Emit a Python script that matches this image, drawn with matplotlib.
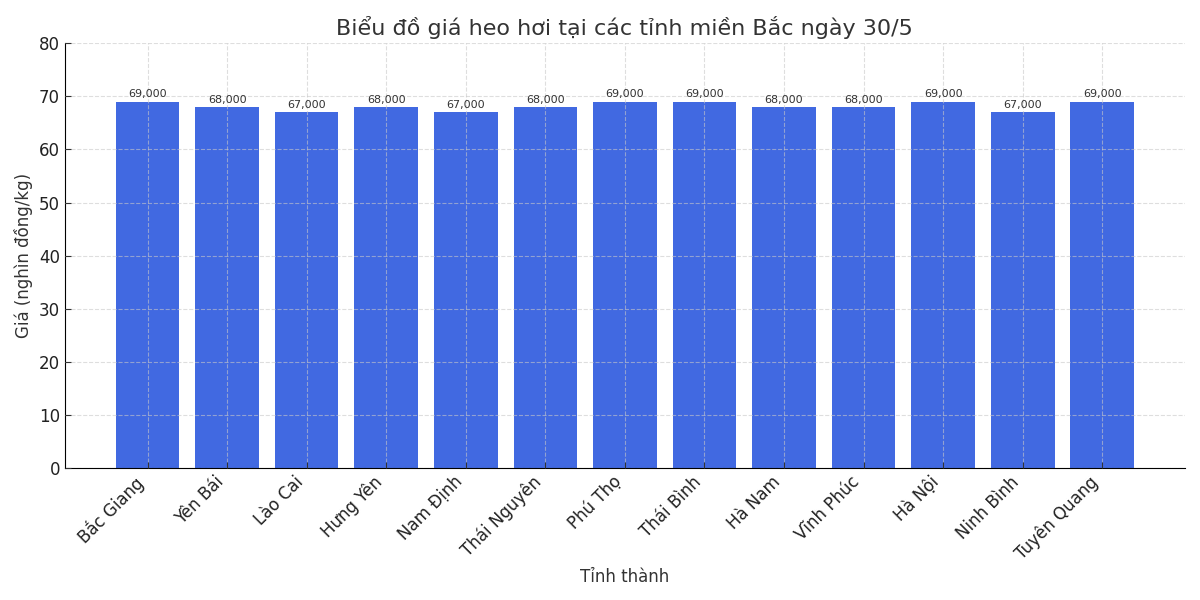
import matplotlib
matplotlib.use("Agg")
import matplotlib.pyplot as plt

provinces = ["Bắc Giang", "Yên Bái", "Lào Cai", "Hưng Yên", "Nam Định", "Thái Nguyên",
             "Phú Thọ", "Thái Bình", "Hà Nam", "Vĩnh Phúc", "Hà Nội", "Ninh Bình", "Tuyên Quang"]
prices = [69, 68, 67, 68, 67, 68, 69, 69, 68, 68, 69, 67, 69]

plt.rcParams['font.family'] = ['DejaVu Sans']
fig = plt.figure(figsize=(12, 6), dpi=100)
ax = fig.add_axes([0.054, 0.22, 0.9335, 0.708])

bars = ax.bar(provinces, prices, width=0.8, color='royalblue', zorder=2)
for b, v in zip(bars, prices):
    ax.text(b.get_x() + b.get_width() / 2, v + 0.4, f"{v*1000:,}", ha='center', va='bottom',
            fontsize=8, color='#333333', zorder=3)

ax.set_ylim(0, 80)
ax.set_title("Biểu đồ giá heo hơi tại các tỉnh miền Bắc ngày 30/5", fontsize=16, color='#333333')
ax.set_xlabel("Tỉnh thành", fontsize=12, color='#333333', labelpad=4)
ax.set_ylabel("Giá (nghìn đồng/kg)", fontsize=12, color='#333333')
ax.tick_params(axis='both', direction='in', labelsize=12, colors='#333333', length=4)
ax.tick_params(axis='both', labelcolor='#222222')
plt.setp(ax.get_xticklabels(), rotation=45, ha='right')
ax.grid(True, linestyle='--', color='#c8c8c8', alpha=0.6, linewidth=0.8, zorder=3)
ax.set_axisbelow(False)
for s in ['top', 'right']:
    ax.spines[s].set_visible(False)
fig.savefig("out.png", dpi=100)
